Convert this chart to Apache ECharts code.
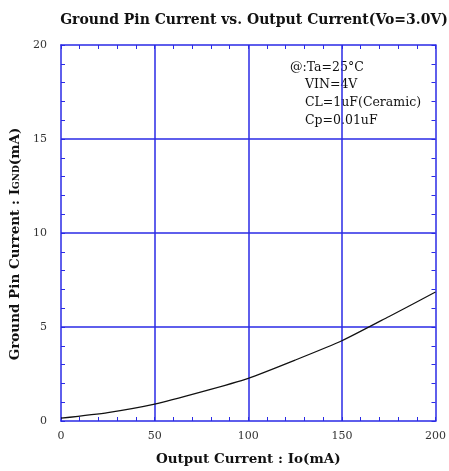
<!DOCTYPE html>
<html>
<head>
<meta charset="utf-8">
<script src="https://cdn.jsdelivr.net/npm/echarts@6/dist/echarts.min.js"></script>
<style>
  html, body { margin: 0; padding: 0; background: #fff; }
  #chart { width: 449px; height: 471px; }
</style>
</head>
<body>
<div id="chart"></div>
<script>
// output current (mA) and ground pin current (mA)
var outputCurrent = [0, 25, 50, 75, 100, 125, 150, 175, 200];
var groundCurrent = [0.15, 0.45, 0.9, 1.55, 2.27, 3.24, 4.27, 5.55, 6.86];
var conditions = ["@:Ta=25°C", "VIN=4V", "CL=1uF(Ceramic)", "Cp=0.01uF"];
// major grid lines inside the frame
var xGridLines = [50, 100, 150];
var yGridLines = [5, 10, 15];

var gridBlue = "#2a2ae6";
var serif = "'DejaVu Serif', 'Liberation Serif', serif";

var chart = echarts.init(document.getElementById("chart"));

var points = outputCurrent.map(function (x, i) {
  return [x, groundCurrent[i]];
});

// small ticks every 10 mA / 1 mA, pointing into the plot
function frameAxis(pos, max, interval, labelStep) {
  return {
    type: "value",
    position: pos,
    min: 0,
    max: max,
    interval: interval,
    axisLine: { show: true, onZero: false, lineStyle: { color: gridBlue, width: 1.5 } },
    axisTick: { show: true, inside: true, length: 4, lineStyle: { color: gridBlue, width: 1 } },
    axisLabel: {
      show: !!labelStep,
      color: "#333", fontFamily: serif, fontSize: 11,
      formatter: function (v) { return labelStep && Math.round(v) % labelStep === 0 ? String(Math.round(v)) : ""; }
    },
    splitLine: { show: false }
  };
}

var xMain = frameAxis("bottom", 200, 10, 50);
xMain.axisLabel.margin = 10;
xMain.name = "Output Current : Io(mA)";
xMain.nameLocation = "middle";
xMain.nameGap = 31;
xMain.nameTextStyle = { color: "#111", fontFamily: serif, fontWeight: "bold", fontSize: 13.5 };

var yMain = frameAxis("left", 20, 1, 5);
yMain.axisLabel.margin = 14;
yMain.name = "Ground Pin Current : I{sub|GND}(mA)";
yMain.nameLocation = "middle";
yMain.nameGap = 36;
yMain.nameTextStyle = {
  color: "#111", fontFamily: serif, fontWeight: "bold", fontSize: 13.5,
  padding: [0, 22, 0, 0],
  rich: { sub: { fontFamily: serif, fontWeight: "bold", fontSize: 9, color: "#111", padding: [4, 0, 0, 0] } }
};

var gridLineData = xGridLines.map(function (v) { return { xAxis: v }; })
  .concat(yGridLines.map(function (v) { return { yAxis: v }; }));

chart.setOption({
  animation: false,
  backgroundColor: "#fff",
  title: {
    text: "Ground Pin Current vs. Output Current(Vo=3.0V)",
    left: 249,
    textAlign: "center",
    top: 8,
    textStyle: { fontFamily: serif, fontWeight: "bold", fontSize: 14, color: "#111" }
  },
  grid: { left: 61, right: 12, top: 45, bottom: 49 },
  xAxis: [xMain, frameAxis("top", 200, 10, 0)],
  yAxis: [yMain, frameAxis("right", 20, 1, 0)],
  graphic: conditions.map(function (t, i) {
    return {
      type: "text",
      left: i === 0 ? 290 : 305,
      top: 61 + i * 17.6,
      style: { text: t, fontFamily: serif, fontSize: 12.5, fill: "#111" }
    };
  }),
  series: [{
    type: "line",
    data: points,
    showSymbol: false,
    smooth: 0.2,
    lineStyle: { color: "#111", width: 1.2 },
    z: 5,
    markLine: {
      silent: true,
      symbol: "none",
      label: { show: false },
      lineStyle: { color: gridBlue, width: 1.5, type: "solid" },
      z: 1,
      data: gridLineData
    }
  }]
});
</script>
</body>
</html>
